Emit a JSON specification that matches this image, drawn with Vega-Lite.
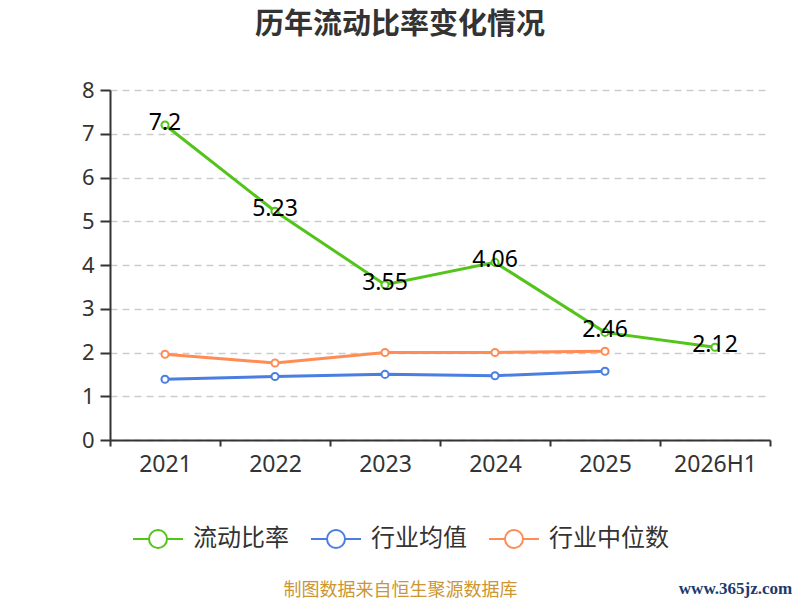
{
  "$schema": "https://vega.github.io/schema/vega-lite/v6.json",
  "autosize": {"type": "none"},
  "width": 660,
  "height": 350,
  "padding": {"left": 110, "top": 90, "right": 30, "bottom": 160},
  "background": "white",
  "config": {
    "view": {"stroke": null},
    "font": "Noto Sans CJK SC"
  },
  "title": {
    "text": "历年流动比率变化情况",
    "fontSize": 29,
    "fontWeight": "bold",
    "color": "#333333",
    "anchor": "middle",
    "frame": "group",
    "dx": -40,
    "offset": 39
  },
  "data": {
    "values": [
      {"year": "2021", "series": "流动比率", "value": 7.2},
      {"year": "2022", "series": "流动比率", "value": 5.23},
      {"year": "2023", "series": "流动比率", "value": 3.55},
      {"year": "2024", "series": "流动比率", "value": 4.06},
      {"year": "2025", "series": "流动比率", "value": 2.46},
      {"year": "2026H1", "series": "流动比率", "value": 2.12},
      {"year": "2021", "series": "行业均值", "value": 1.39},
      {"year": "2022", "series": "行业均值", "value": 1.45},
      {"year": "2023", "series": "行业均值", "value": 1.5},
      {"year": "2024", "series": "行业均值", "value": 1.47},
      {"year": "2025", "series": "行业均值", "value": 1.57},
      {"year": "2021", "series": "行业中位数", "value": 1.96},
      {"year": "2022", "series": "行业中位数", "value": 1.76},
      {"year": "2023", "series": "行业中位数", "value": 2.0},
      {"year": "2024", "series": "行业中位数", "value": 2.0},
      {"year": "2025", "series": "行业中位数", "value": 2.03}
    ]
  },
  "encoding": {
    "x": {
      "field": "year",
      "type": "nominal",
      "sort": ["2021", "2022", "2023", "2024", "2025", "2026H1"],
      "bandPosition": 0.5,
      "scale": {"type": "band", "paddingInner": 0, "paddingOuter": 0},
      "axis": {
        "title": "制图数据来自恒生聚源数据库",
        "titleColor": "#cc9633",
        "titleFontSize": 18,
        "titleFontWeight": "normal",
        "titleX": 290,
        "titleY": 150,
        "titleAlign": "center",
        "titleBaseline": "middle",
        "labelAngle": 0,
        "labelFontSize": 23,
        "labelColor": "#333333",
        "labelFont": "Noto Sans",
        "labelPadding": 7,
        "tickBand": "extent",
        "tickSize": 6,
        "tickColor": "#333333",
        "tickWidth": 2,
        "domainColor": "#333333",
        "domainWidth": 2,
        "grid": false
      }
    },
    "y": {
      "field": "value",
      "type": "quantitative",
      "scale": {"domain": [0, 8], "nice": false},
      "axis": {
        "values": [0, 1, 2, 3, 4, 5, 6, 7, 8],
        "title": "www.365jz.com",
        "titleAngle": 0,
        "titleX": 625,
        "titleY": 498,
        "titleAlign": "center",
        "titleBaseline": "middle",
        "titleFont": "Liberation Serif",
        "titleFontSize": 17,
        "titleFontWeight": "bold",
        "titleColor": "#1b3b6f",
        "labelFontSize": 22,
        "labelColor": "#333333",
        "labelFont": "Noto Sans",
        "labelPadding": 6,
        "tickSize": 10,
        "tickColor": "#333333",
        "tickWidth": 2,
        "domainColor": "#333333",
        "domainWidth": 2,
        "grid": true,
        "gridColor": "#cccccc",
        "gridDash": [7, 5],
        "gridWidth": 1.5
      }
    }
  },
  "layer": [
    {
      "mark": {
        "type": "line",
        "strokeWidth": 3,
        "point": {"filled": false, "fill": "white", "size": 50, "strokeWidth": 2}
      },
      "encoding": {
        "color": {
          "field": "series",
          "type": "nominal",
          "scale": {
            "domain": ["流动比率", "行业均值", "行业中位数"],
            "range": ["#52c41a", "#4a7ee0", "#ff8c55"]
          },
          "legend": {
            "title": null,
            "orient": "none",
            "direction": "horizontal",
            "legendX": 36,
            "legendY": 437,
            "symbolType": "M-2.5,0L-0.9,0M0.9,0A0.9,0.9,0,1,1,-0.9,0A0.9,0.9,0,1,1,0.9,0M0.9,0L2.5,0",
            "symbolSize": 400,
            "symbolStrokeWidth": 2,
            "symbolFillColor": "white",
            "labelFontSize": 24,
            "labelColor": "#333333",
            "labelOffset": 23,
            "columnPadding": 18,
            "labelLimit": 300
          }
        }
      }
    },
    {
      "transform": [{"filter": "datum.series === '流动比率'"}],
      "mark": {
        "type": "text",
        "fontSize": 23,
        "font": "Noto Sans",
        "color": "#000000",
        "baseline": "middle",
        "dy": -2
      },
      "encoding": {
        "text": {"field": "value", "type": "nominal"}
      }
    }
  ]
}
